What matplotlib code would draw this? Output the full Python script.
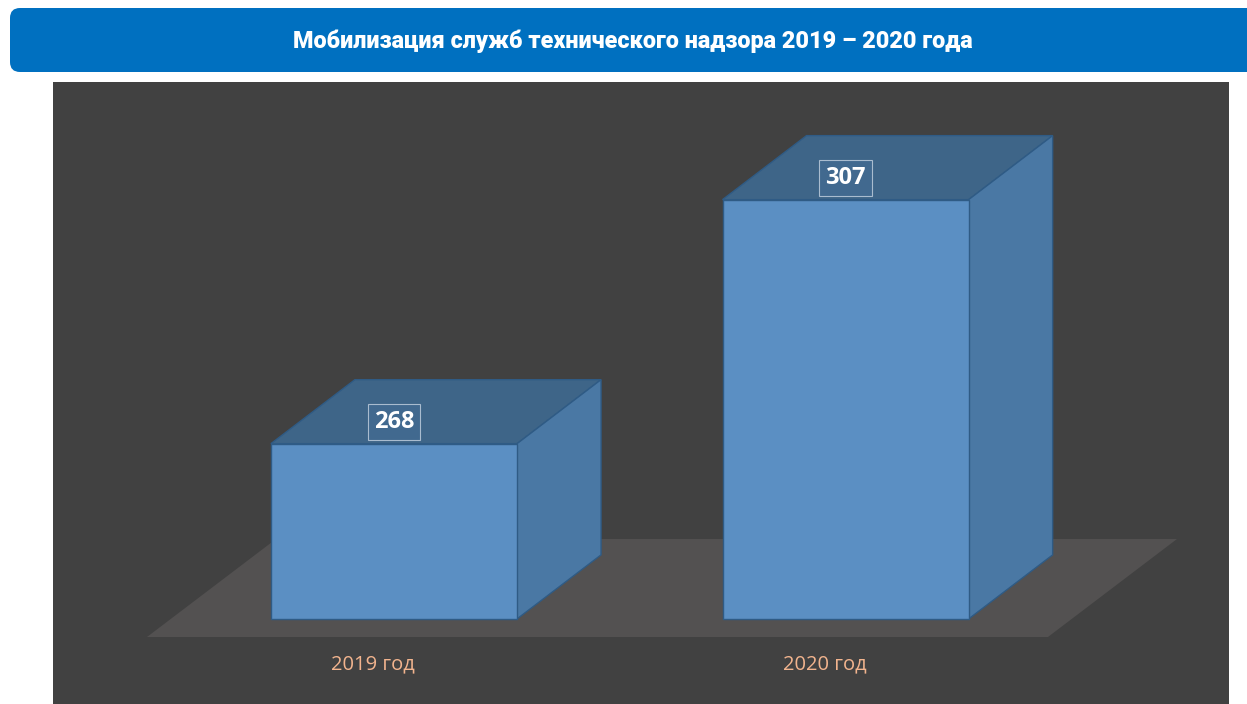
import matplotlib.pyplot as plt
from matplotlib import font_manager, ft2font
from matplotlib.patches import Polygon, FancyBboxPatch

plt.rcParams['font.family'] = ['Open Sans', 'DejaVu Sans']

# данные
title = 'Мобилизация служб технического надзора 2019 – 2020 года'
categories = ['2019 год', '2020 год']
values = [268, 307]

base = 240          # начало оси значений
bar_w = 0.545       # ширина столбика (в единицах категорий)
ddx, ddy = 0.186, 10.23     # глубина столбика
fdx, fdy = 0.2857, 15.66    # глубина "пола"

front_c = '#5b8fc3'
side_c = '#4a78a4'
top_c = '#3e6588'
edge_c = '#2f5b85'

fig = plt.figure(figsize=(12.47, 7.04), dpi=100)
fig.patch.set_facecolor('white')

# синяя плашка заголовка
hdr = fig.add_axes([0, 0, 1, 1])
hdr.set_xlim(0, 1247)
hdr.set_ylim(704, 0)
hdr.axis('off')
hdr.add_patch(FancyBboxPatch((10, 8), 1260, 64, boxstyle='round,pad=0,rounding_size=10',
                             facecolor='#0070c0', edgecolor='none'))
t = hdr.text(633, 41, title, color='white', fontsize=19, fontweight='black',
             family=['Roboto', 'DejaVu Sans'], ha='center', va='center')
# подгоняем ширину заголовка (~680 px)
rend = fig.canvas.get_renderer()
w = t.get_window_extent(rend).width
t.set_fontsize(19 * 680 / w)

# область диаграммы
ax = fig.add_axes([53 / 1247, 0, 1176 / 1247, 622 / 704])
ax.set_facecolor('#414141')
ax.set_xlim(-0.755, 1.849)
ax.set_ylim(226.4, 325.8)
ax.set_xticks([])
ax.set_yticks([])
for s in ax.spines.values():
    s.set_visible(False)

# пол
x0 = -0.547
x1 = len(categories) - 1 + 0.448
y0 = base - 2.9
ax.add_patch(Polygon([(x0, y0), (x1, y0), (x1 + fdx, y0 + fdy), (x0 + fdx, y0 + fdy)],
                     closed=True, facecolor='#535151', edgecolor='none', zorder=1))

for i, (cat, v) in enumerate(zip(categories, values)):
    l = i - bar_w / 2
    r = i + bar_w / 2
    # верх
    ax.add_patch(Polygon([(l, v), (r, v), (r + ddx, v + ddy), (l + ddx, v + ddy)],
                         closed=True, facecolor=top_c, edgecolor=edge_c, lw=1, zorder=2))
    # бок
    ax.add_patch(Polygon([(r, base), (r + ddx, base + ddy), (r + ddx, v + ddy), (r, v)],
                         closed=True, facecolor=side_c, edgecolor=edge_c, lw=1, zorder=2))
    # фронт
    ax.add_patch(Polygon([(l, base), (r, base), (r, v), (l, v)],
                         closed=True, facecolor=front_c, edgecolor=edge_c, lw=1, zorder=3))
    ax.annotate(str(v), (i, v), xytext=(0, 15.8), textcoords='offset points',
                ha='center', va='center', color='white', fontsize=17, fontweight='bold',
                bbox=dict(boxstyle='square,pad=0.25', facecolor='#41698f',
                          edgecolor='#a9bccf', lw=0.8), zorder=5)
    ax.text(i - 0.047, 232.7, cat, ha='center', va='center', color='#f2b48e', fontsize=14.5)

fig.savefig('out.png', dpi=100)
